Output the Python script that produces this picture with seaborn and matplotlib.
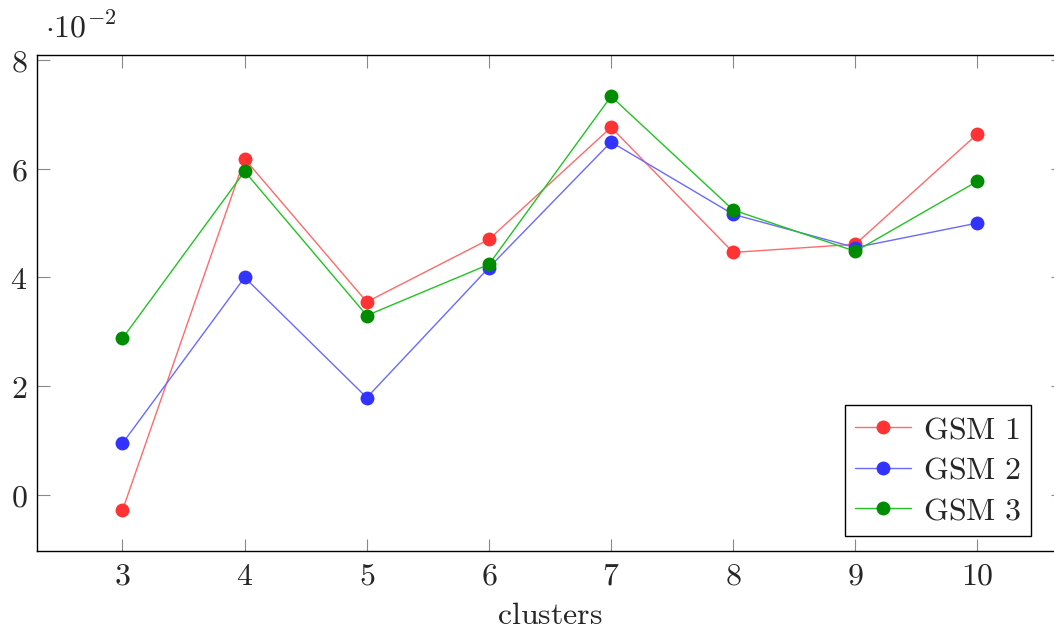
import matplotlib
matplotlib.use("Agg")
import matplotlib.pyplot as plt
import seaborn as sns
import pandas as pd
from matplotlib.ticker import FuncFormatter, FixedLocator

clusters = [3, 4, 5, 6, 7, 8, 9, 10]
gsm1 = [-0.0028, 0.0618, 0.0355, 0.0470, 0.0676, 0.0446, 0.0461, 0.0664]
gsm2 = [0.0095, 0.0400, 0.0179, 0.0418, 0.0649, 0.0516, 0.0455, 0.0500]
gsm3 = [0.0288, 0.0595, 0.0330, 0.0424, 0.0733, 0.0524, 0.0448, 0.0577]
labels = ["GSM 1", "GSM 2", "GSM 3"]

sns.set_theme(style="white")
plt.rcParams["mathtext.fontset"] = "cm"
plt.rcParams["font.family"] = ["DejaVu Serif"]

FS = 23

fig = plt.figure(figsize=(10.54, 6.30), dpi=100)
left_px, right_px, top_px, bot_px = 37, 37 + 8.4 * 122.14, 55, 551
ax = fig.add_axes([left_px / 1054, (630 - bot_px) / 630,
                   (right_px - left_px) / 1054, (bot_px - top_px) / 630])

line_colors = ["#ff6a6a", "#6a6aff", "#22c322"]
marker_colors = ["#ff3333", "#3333ff", "#008c00"]

for vals, lab, lc, mc in zip([gsm1, gsm2, gsm3], labels, line_colors, marker_colors):
    df = pd.DataFrame({"clusters": clusters, "value": vals})
    sns.lineplot(data=df, x="clusters", y="value", ax=ax, color=lc, linewidth=1.0,
                 marker="o", markersize=10, markerfacecolor=mc, markeredgecolor=mc,
                 markeredgewidth=0, label=r"$\mathrm{" + lab.replace(" ", r"\ ") + "}$")

ax.set_xlim(2.3, 10.7)
ax.set_ylim(-0.0103, 0.0809)
ax.xaxis.set_major_locator(FixedLocator(clusters))
ax.yaxis.set_major_locator(FixedLocator([0, 0.02, 0.04, 0.06, 0.08]))
ax.xaxis.set_major_formatter(FuncFormatter(lambda v, p: r"$%d$" % round(v)))
ax.yaxis.set_major_formatter(FuncFormatter(lambda v, p: r"$%d$" % round(v * 100)))
ax.tick_params(axis="both", which="major", direction="in", length=9, width=0.8,
               color="#888888", labelsize=FS, top=True, right=True,
               bottom=True, left=True, pad=7)
for s in ax.spines.values():
    s.set_color("black")
    s.set_linewidth(1.0)

ax.set_xlabel(r"$\mathrm{clusters}$", fontsize=FS, labelpad=6)
ax.set_ylabel("")
ax.text(0.008, 1.022, r"$\cdot 10^{-2}$", transform=ax.transAxes, fontsize=FS,
        ha="left", va="bottom")

leg = ax.legend(loc="lower right", bbox_to_anchor=(1031 / 1054, (630 - 536) / 630),
                bbox_transform=fig.transFigure, borderaxespad=0, fontsize=FS,
                frameon=True, fancybox=False, framealpha=1, edgecolor="black",
                handlelength=1.75, handletextpad=0.4, labelspacing=0.3,
                borderpad=0.3)
leg.get_frame().set_linewidth(1.0)

fig.savefig("out.png", dpi=100)
